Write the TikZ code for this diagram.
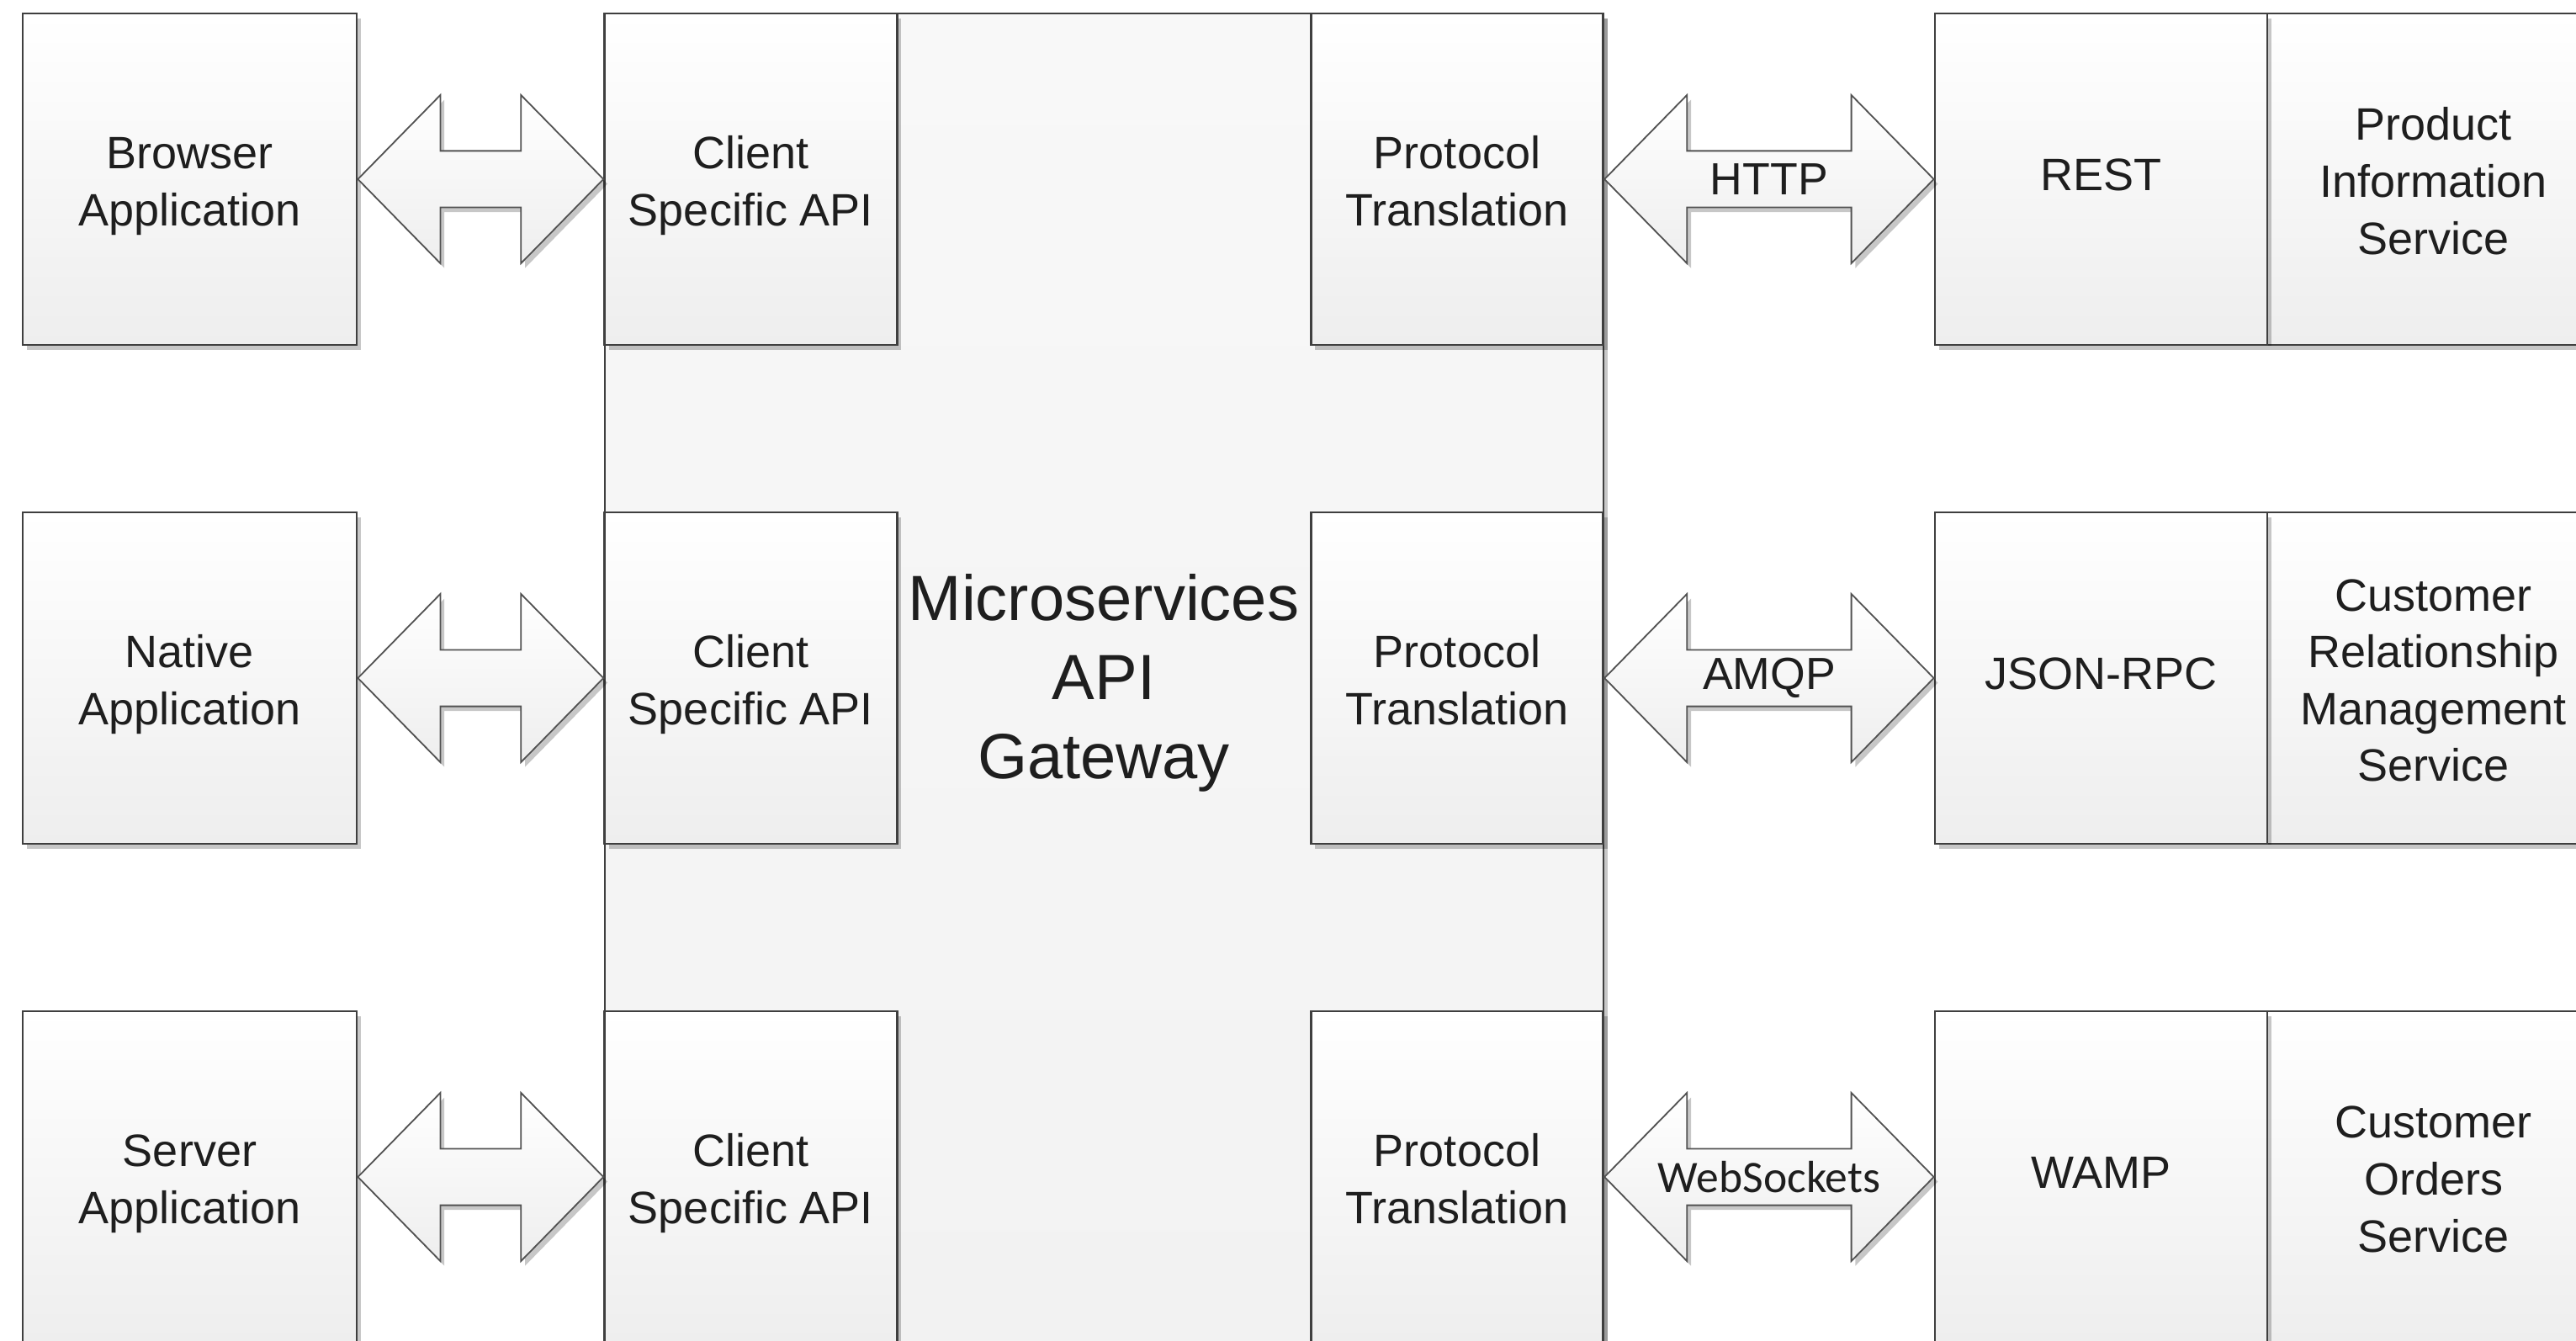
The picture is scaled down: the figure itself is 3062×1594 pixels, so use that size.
\documentclass[tikz,border=0pt]{standalone}
\usepackage{fontspec}
\setmainfont{Liberation Sans}
\newfontfamily\calibfont{Carlito}
\usetikzlibrary{calc,shadows}
\definecolor{edge}{HTML}{3F3F3F}
\definecolor{txt}{HTML}{1E1E1E}
\definecolor{boxbot}{HTML}{EEEEEE}
\definecolor{gwtop}{HTML}{F8F8F8}
\definecolor{gwbot}{HTML}{F2F2F2}
\newcommand\toprule{\rule{0pt}{15.8pt}}
\tikzset{
  x=0.25pt, y=-0.25pt,
  myshadow/.style={drop shadow={shadow xshift=1.2pt, shadow yshift=-1.4pt, opacity=0.22, fill=black}},
  box/.style={draw=edge, line width=0.7pt, top color=white, bottom color=boxbot,
    minimum height=98.5pt, inner sep=0pt, align=center, text=txt,
    font=\fontsize{13.5}{16.9}\selectfont, myshadow,
    execute at begin node=\strut, execute at end node=\strut},
  appbox/.style={box, minimum width=99.25pt},
  apibox/.style={box, minimum width=86.9pt},
  svcbox/.style={box, minimum width=98.75pt},
  gwbox/.style={draw=edge, line width=0.7pt, top color=gwtop, bottom color=gwbot,
    minimum width=296.75pt, minimum height=395pt, inner sep=0pt, myshadow},
  gwtext/.style={align=center, text=txt, font=\fontsize{19}{23.5}\selectfont,
    execute at begin node=\strut, execute at end node=\strut},
  blockarr/.style={draw=edge!90, line width=0.45pt, top color=white, bottom color=boxbot, myshadow},
  arrlabel/.style={text=txt, inner sep=0pt, font=\fontsize{13.4}{16}\selectfont},
}
\newcommand\dblarrow[4]{%
  \path[blockarr] let \p1=(#1.east), \p2=(#2.west) in
    (\p1) -- (\x1+24.5pt,\y1+25pt) -- (\x1+24.5pt,\y1+8.4pt) -- (\x2-24.5pt,\y1+8.4pt)
    -- (\x2-24.5pt,\y1+25pt) -- (\x2,\y1) -- (\x2-24.5pt,\y1-25pt) -- (\x2-24.5pt,\y1-8.4pt)
    -- (\x1+24.5pt,\y1-8.4pt) -- (\x1+24.5pt,\y1-25pt) -- cycle;
  \node[arrlabel] (#3) at ($(#1.east)!0.5!(#2.west)$) {#4};
}
\begin{document}
\begin{tikzpicture}
\clip (0,0) rectangle (3062,1594);
\fill[white] (0,0) rectangle (3062,1594);

% gateway
\node[gwbox] (gw) at (1312.5,806) {};
\node[gwtext] (gwlabel) at (1312,818) {Microservices\\API\\Gateway};

% left column: applications
\node[appbox] (app1) at (225.5,213) {\toprule Browser\\Application};
\node[appbox] (app2) at (225.5,806) {\toprule Native\\Application};
\node[appbox] (app3) at (225.5,1399) {\toprule Server\\Application};

% client specific APIs
\node[apibox] (api1) at (892.5,213) {\toprule Client\\Specific API};
\node[apibox] (api2) at (892.5,806) {\toprule Client\\Specific API};
\node[apibox] (api3) at (892.5,1399) {\toprule Client\\Specific API};

% protocol translation
\node[apibox] (pt1) at (1732,213) {\toprule Protocol\\Translation};
\node[apibox] (pt2) at (1732,806) {\toprule Protocol\\Translation};
\node[apibox] (pt3) at (1732,1399) {\toprule Protocol\\Translation};

% services
\node[svcbox] (svc1) at (2892.5,213) {\toprule Product\\Information\\Service};
\node[svcbox] (svc2) at (2892.5,806) {\toprule Customer\\Relationship\\Management\\Service};
\node[svcbox] (svc3) at (2892.5,1399) {\toprule Customer\\Orders\\Service};

% protocols
\node[svcbox] (pr1) at (2497.5,213) {REST};
\node[svcbox] (pr2) at (2497.5,806) {JSON-RPC};
\node[svcbox] (pr3) at (2497.5,1399) {WAMP};

% connectors
\dblarrow{app1}{api1}{c1}{}
\dblarrow{app2}{api2}{c2}{}
\dblarrow{app3}{api3}{c3}{}
\dblarrow{pt1}{pr1}{c4}{HTTP}
\dblarrow{pt2}{pr2}{c5}{AMQP}
\dblarrow{pt3}{pr3}{c6}{\calibfont WebSockets}
\end{tikzpicture}
\end{document}
